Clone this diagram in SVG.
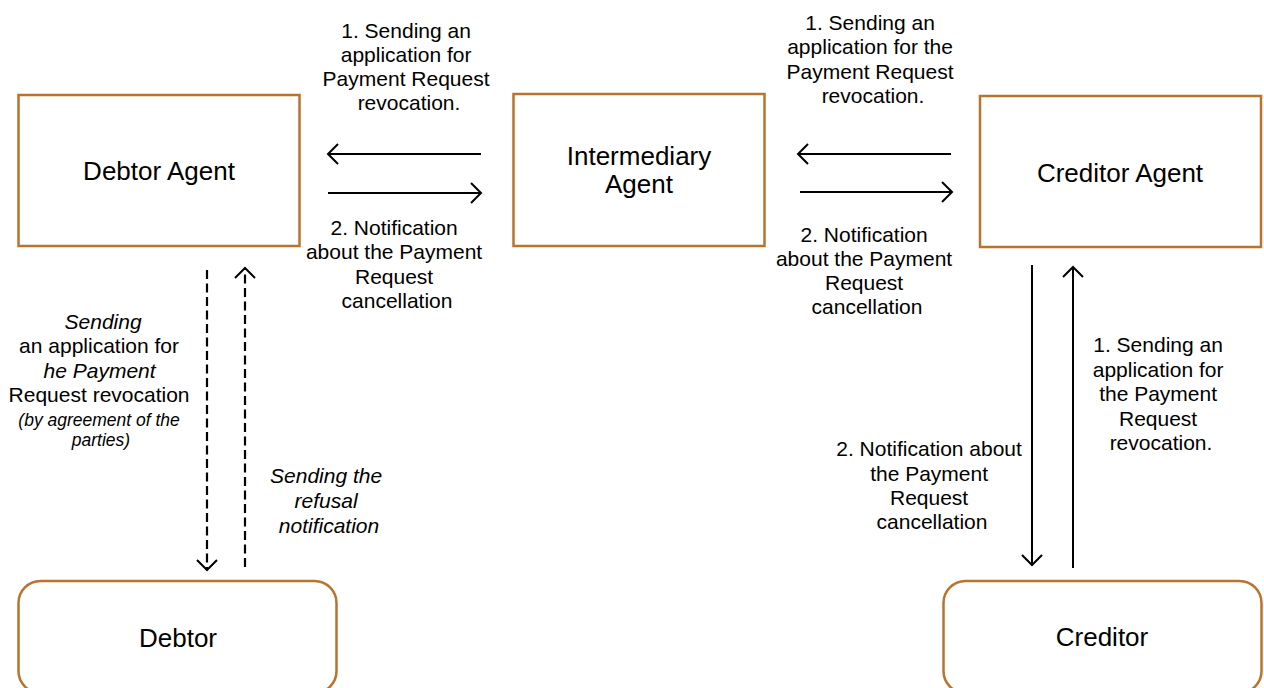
<svg xmlns="http://www.w3.org/2000/svg" width="1264" height="688" viewBox="0 0 1264 688">
  <style>
    .box { fill: #ffffff; stroke: #B8732F; stroke-width: 2.5; }
    .node-label { font-family: "Liberation Sans", Arial, sans-serif; font-size: 26px; fill: #000; text-anchor: middle; }
    .label { font-family: "Liberation Sans", Arial, sans-serif; font-size: 21px; fill: #000; text-anchor: middle; }
    .it { font-style: italic; }
    .small { font-size: 17.5px; }
    .flow { fill: none; stroke: #000; stroke-width: 2; marker-end: url(#open); }
    .dashed { stroke-width: 2.2; stroke-dasharray: 9 4.5; }
  </style>
  <defs>
    <marker id="open" viewBox="-12 -12 14 24" refX="0" refY="0" markerWidth="14" markerHeight="24" markerUnits="userSpaceOnUse" orient="auto">
      <path d="M-10,-10 L0,0 L-10,10" fill="none" stroke="#000" stroke-width="2"/>
    </marker>
  </defs>

  <rect width="1264" height="688" fill="#ffffff"/>

  <!-- Participants -->
  <g id="debtor-agent">
    <rect class="box" x="18.5" y="95" width="281" height="151"/>
    <text class="node-label" x="159" y="180">Debtor Agent</text>
  </g>
  <g id="intermediary-agent">
    <rect class="box" x="513.5" y="94" width="251" height="152"/>
    <text class="node-label" x="639" y="165">Intermediary</text>
    <text class="node-label" x="639" y="193">Agent</text>
  </g>
  <g id="creditor-agent">
    <rect class="box" x="980" y="96" width="281" height="151"/>
    <text class="node-label" x="1120" y="182">Creditor Agent</text>
  </g>
  <g id="debtor">
    <rect class="box" x="18.5" y="581" width="318" height="112" rx="22"/>
    <text class="node-label" x="178" y="647">Debtor</text>
  </g>
  <g id="creditor">
    <rect class="box" x="943.5" y="581" width="318" height="112" rx="22"/>
    <text class="node-label" x="1102" y="646">Creditor</text>
  </g>

  <!-- Message flows -->
  <g id="connectors">
    <path class="flow" d="M481,154 L328,154"/>
    <path class="flow" d="M328,193 L481,193"/>
    <path class="flow" d="M951,154 L798,154"/>
    <path class="flow" d="M800,192 L952,192"/>
    <path class="flow" d="M1032,265 L1032,565"/>
    <path class="flow" d="M1073,568 L1073,267"/>
    <path class="flow dashed" d="M207,270 L207,570"/>
    <path class="flow dashed" d="M245,567 L245,268"/>
  </g>

  <!-- Flow labels -->
  <g id="labels">
    <text class="label" x="409">
      <tspan x="409" y="37.5">1. Sending an</tspan>
      <tspan x="409" y="62">application for</tspan>
      <tspan x="409" y="86">Payment Request</tspan>
      <tspan x="409" y="110">revocation.</tspan>
    </text>
    <text class="label" x="397">
      <tspan x="397" y="235">2. Notification</tspan>
      <tspan x="397" y="259">about the Payment</tspan>
      <tspan x="397" y="283.5">Request</tspan>
      <tspan x="397" y="308">cancellation</tspan>
    </text>
    <text class="label" x="873">
      <tspan x="873" y="29.5">1. Sending an</tspan>
      <tspan x="873" y="54">application for the</tspan>
      <tspan x="873" y="78.5">Payment Request</tspan>
      <tspan x="873" y="103">revocation.</tspan>
    </text>
    <text class="label" x="867">
      <tspan x="867" y="242">2. Notification</tspan>
      <tspan x="867" y="266">about the Payment</tspan>
      <tspan x="867" y="290">Request</tspan>
      <tspan x="867" y="314">cancellation</tspan>
    </text>
    <text class="label" x="1161">
      <tspan x="1161" y="352">1. Sending an</tspan>
      <tspan x="1161" y="376.5">application for</tspan>
      <tspan x="1161" y="401">the Payment</tspan>
      <tspan x="1161" y="425.5">Request</tspan>
      <tspan x="1161" y="450">revocation.</tspan>
    </text>
    <text class="label" x="932">
      <tspan x="932" y="456">2. Notification about</tspan>
      <tspan x="932" y="480.5">the Payment</tspan>
      <tspan x="932" y="505">Request</tspan>
      <tspan x="932" y="529">cancellation</tspan>
    </text>
    <text class="label it" x="329">
      <tspan x="329" y="483">Sending the</tspan>
      <tspan x="329" y="508">refusal</tspan>
      <tspan x="329" y="533">notification</tspan>
    </text>
    <text class="label" x="102">
      <tspan class="it" x="106" y="329">Sending</tspan>
      <tspan x="102" y="353">an application for</tspan>
      <tspan class="it" x="102.5" y="377.5">he Payment</tspan>
      <tspan x="102" y="402">Request revocation</tspan>
      <tspan class="it small" x="102" y="426">(by agreement of the</tspan>
      <tspan class="it small" x="101" y="446">parties)</tspan>
    </text>
  </g>
</svg>
